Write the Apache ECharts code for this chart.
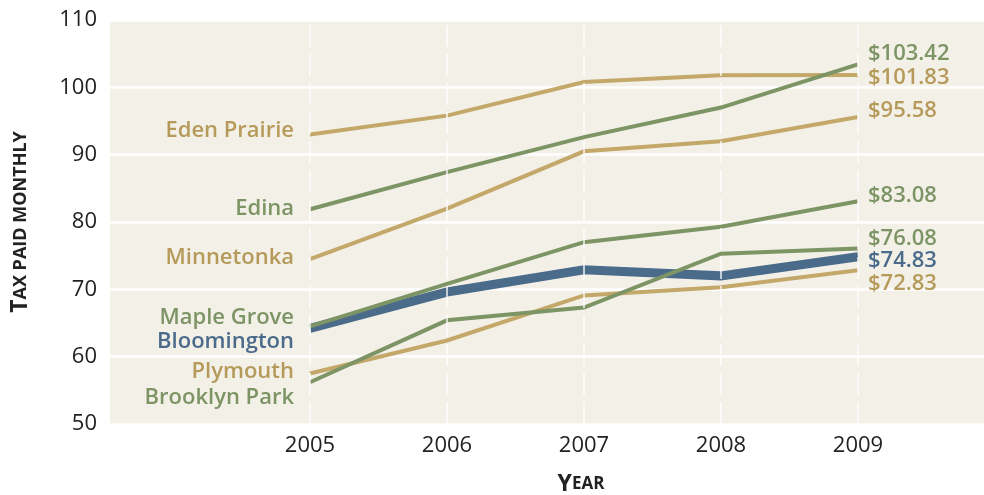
<!DOCTYPE html>
<html>
<head>
<meta charset="utf-8">
<script src="https://cdn.jsdelivr.net/npm/echarts@6/dist/echarts.min.js"></script>
<style>
  html, body { margin: 0; padding: 0; background: #ffffff; }
  #chart { width: 984px; height: 495px; }
</style>
</head>
<body>
<div id="chart"></div>
<script>
// Monthly tax paid by suburb, 2005-2009
const years = [2005, 2006, 2007, 2008, 2009];
const yTicks = [50, 60, 70, 80, 90, 100, 110];

const edenPrairie  = [93.0, 95.8, 100.8, 101.8, 101.83];
const edina        = [81.9, 87.4, 92.6, 97.0, 103.42];
const minnetonka   = [74.5, 82.0, 90.5, 92.0, 95.58];
const mapleGrove   = [64.5, 70.8, 77.0, 79.3, 83.08];
const bloomington  = [64.2, 69.6, 72.9, 72.0, 74.83];
const plymouth     = [57.5, 62.4, 69.1, 70.3, 72.83];
const brooklynPark = [56.2, 65.4, 67.3, 75.3, 76.08];

const TAN = '#c4a869', TAN_TEXT = '#b59a5a';
const GREEN = '#7d9465', GREEN_TEXT = '#7d9465';
const BLUE = '#4b6b8b', BLUE_TEXT = '#4b6b8b';
const FONT = '"Open Sans", "Noto Sans", sans-serif';

function makeSeries(name, values, color, textColor, width, startDy, endDy) {
  const data = values.map((v, i) => [years[i], v]);
  // the city name sits just left of the first point
  data[0] = {
    value: data[0],
    label: {
      show: true,
      position: 'left',
      distance: 16,
      offset: [0, startDy],
      formatter: name,
      color: textColor,
      fontFamily: FONT,
      fontWeight: 600,
      fontSize: 22
    }
  };
  return {
    name: name,
    type: 'line',
    data: data,
    symbol: 'circle',
    symbolSize: 0,
    showSymbol: true,
    z: 3,
    lineStyle: { color: color, width: width, cap: 'butt', join: 'miter' },
    itemStyle: { color: color },
    label: { show: false },
    endLabel: {
      show: true,
      distance: 10,
      offset: [0, endDy],
      formatter: p => '$' + p.value[1].toFixed(2),
      color: textColor,
      fontFamily: FONT,
      fontWeight: 600,
      fontSize: 22
    },
    emphasis: { disabled: true },
    silent: true
  };
}

const chart = echarts.init(document.getElementById('chart'), null, { renderer: 'canvas' });

chart.setOption({
  backgroundColor: '#ffffff',
  animation: false,
  grid: {
    left: 110, right: 0, top: 20, bottom: 71,
    outerBoundsMode: 'none',
    containLabel: false,
    show: true, backgroundColor: '#f3f0e8', borderWidth: 0
  },
  xAxis: {
    type: 'value',
    min: 2003.54,
    max: 2009.92,
    name: '{b|Y}{s|EAR}',
    nameLocation: 'middle',
    nameGap: 49,
    nameTextStyle: {
      padding: [0, 0, 0, 68],
      rich: {
        b: { fontFamily: FONT, fontWeight: 700, fontSize: 23, color: '#222' },
        s: { fontFamily: FONT, fontWeight: 700, fontSize: 17, color: '#222' }
      }
    },
    axisLine: { show: false },
    axisTick: { show: false },
    splitLine: { show: false },
    axisLabel: {
      customValues: years,
      formatter: v => String(v),
      margin: 11,
      color: '#222',
      fontFamily: FONT,
      fontSize: 22
    }
  },
  yAxis: {
    type: 'value',
    min: yTicks[0],
    max: yTicks[yTicks.length - 1],
    interval: 10,
    name: '{b|T}{s|AX PAID MONTHLY}',
    nameLocation: 'middle',
    nameRotate: 90,
    nameGap: 78,
    nameTextStyle: {
      rich: {
        b: { fontFamily: FONT, fontWeight: 700, fontSize: 23, color: '#222' },
        s: { fontFamily: FONT, fontWeight: 700, fontSize: 18, color: '#222' }
      }
    },
    axisLine: { show: false },
    axisTick: { show: false },
    axisLabel: {
      margin: 13,
      color: '#222',
      fontFamily: FONT,
      fontSize: 22
    },
    splitLine: { show: true, lineStyle: { color: '#ffffff', width: 2.5 } }
  },
  series: [
    {
      // vertical year guides, kept beneath the data lines
      type: 'line',
      data: [],
      z: 1,
      silent: true,
      markLine: {
        silent: true,
        symbol: ['none', 'none'],
        label: { show: false },
        lineStyle: { color: 'rgba(255,255,255,0.9)', width: 1.5, type: [22, 7] },
        data: years.map(y => ({ xAxis: y }))
      }
    },
    makeSeries('Eden Prairie', edenPrairie, TAN, TAN_TEXT, 4, -4, 3),
    makeSeries('Minnetonka', minnetonka, TAN, TAN_TEXT, 4, -1, -6),
    makeSeries('Plymouth', plymouth, TAN, TAN_TEXT, 4, -2, 13),
    makeSeries('Bloomington', bloomington, BLUE, BLUE_TEXT, 9, 13, 4),
    makeSeries('Edina', edina, GREEN, GREEN_TEXT, 4, 0, -11),
    makeSeries('Maple Grove', mapleGrove, GREEN, GREEN_TEXT, 4, -9, -6),
    makeSeries('Brooklyn Park', brooklynPark, GREEN, GREEN_TEXT, 4, 15, -10)
  ]
});
</script>
</body>
</html>
